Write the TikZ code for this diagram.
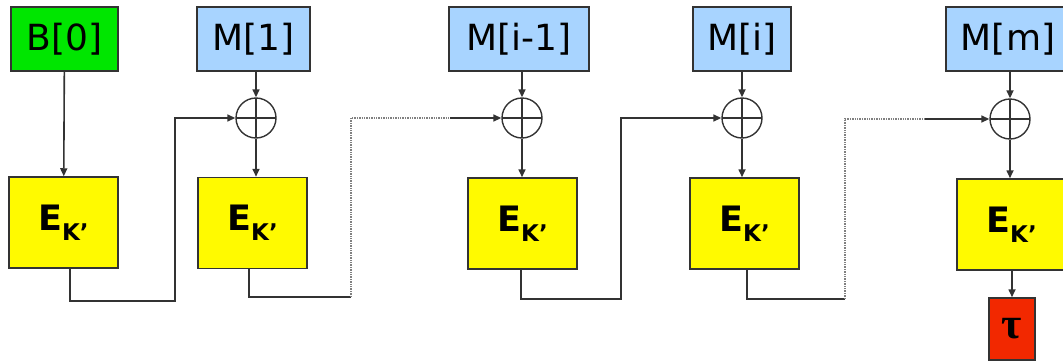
\documentclass[tikz,border=0pt]{standalone}
\usepackage{fontspec}
\setmainfont{DejaVu Sans}
\newfontfamily\taufont{Liberation Serif}
\usetikzlibrary{arrows.meta}
\definecolor{keygreen}{RGB}{0,230,0}
\definecolor{msgblue}{RGB}{168,212,255}
\definecolor{encyellow}{RGB}{255,250,0}
\definecolor{tagred}{RGB}{242,40,0}
\definecolor{edgegray}{RGB}{51,51,51}
\newcommand{\ek}{{\bfseries E\raisebox{-10pt}{\fontsize{23}{23}\selectfont K’}}}
\begin{document}
\begin{tikzpicture}
[
    x=1pt, y=-1pt,
    box/.style={draw=edgegray, line width=1.5pt, inner sep=0pt, font=\fontsize{36}{36}\selectfont},
    keybox/.style={box, fill=keygreen, minimum width=107pt, minimum height=64pt},
    msgbox/.style={box, fill=msgblue, minimum height=64pt},
    encbox/.style={box, fill=encyellow, minimum width=109pt, minimum height=91pt, font=\fontsize{35}{35}\selectfont},
    tagbox/.style={box, fill=tagred, minimum width=46pt, minimum height=62pt, font=\fontsize{44}{44}\taufont\bfseries},
    xorsym/.style={draw=edgegray, circle, line width=1.4pt, minimum size=40pt, inner sep=0pt,
        path picture={\draw[edgegray, line width=1.4pt] (path picture bounding box.north) -- (path picture bounding box.south)
            (path picture bounding box.west) -- (path picture bounding box.east);}},
    wire/.style={draw=edgegray, line width=1.6pt},
    arr/.style={wire, -{Triangle[length=8pt,width=7pt]}},
    dots/.style={draw=gray, line width=1.4pt, densely dotted}
]
    \useasboundingbox (0,0) rectangle (1063,362);

    \node [keybox] (b0) at (64.5,39) {B[0]};
    \node [msgbox, minimum width=113pt] (m1) at (253.5,39) {M[1]};
    \node [msgbox, minimum width=140pt] (m3) at (519,39) {M[i-1]};
    \node [msgbox, minimum width=98pt] (m4) at (742,39) {M[i]};
    \node [msgbox, minimum width=124pt] (m5) at (1008,39) {M[m]};

    \node [xorsym] (x1) at (256,118) {};
    \node [xorsym] (x3) at (522,118) {};
    \node [xorsym] (x4) at (742,118) {};
    \node [xorsym] (x5) at (1010,119) {};

    \node [encbox] (e1) at (63.5,222.5) {\ek};
    \node [encbox] (e2) at (252.5,223) {\ek};
    \node [encbox] (e3) at (522.5,223.5) {\ek};
    \node [encbox] (e4) at (744.5,223.5) {\ek};
    \node [encbox] (e5) at (1011.5,224.5) {\ek};

    \node [tagbox] (t) at (1012,329) {τ};

    \coordinate (c1) at (175,301);
    \coordinate (c2) at (351,297);
    \coordinate (d2) at (450,118);
    \coordinate (c3) at (621,299);
    \coordinate (c4) at (845,299);
    \coordinate (d4) at (925,119);

    \draw [arr] (b0) -- (e1);
    \foreach \m/\x/\e in {m1/x1/e2, m3/x3/e3, m4/x4/e4, m5/x5/e5} {
        \draw [arr] (\m.south -| \x) -- (\x.north);
        \draw [arr] (\x.south) -- (\x.south |- \e.north);
    }
    \draw [arr] ([xshift=6.5pt]e1.south) |- (c1) |- (x1.west);
    \draw [wire] ([xshift=-3.5pt]e2.south) |- (c2);
    \draw [dots] (c2) |- (d2);
    \draw [arr] (d2) -- (x3.west);
    \draw [arr] ([xshift=-1.5pt]e3.south) |- (c3) |- (x4.west);
    \draw [wire] ([xshift=2.5pt]e4.south) |- (c4);
    \draw [dots] (c4) |- (d4);
    \draw [arr] (d4) -- (x5.west);
    \draw [arr] (e5.south -| t) -- (t.north);
\end{tikzpicture}
\end{document}
